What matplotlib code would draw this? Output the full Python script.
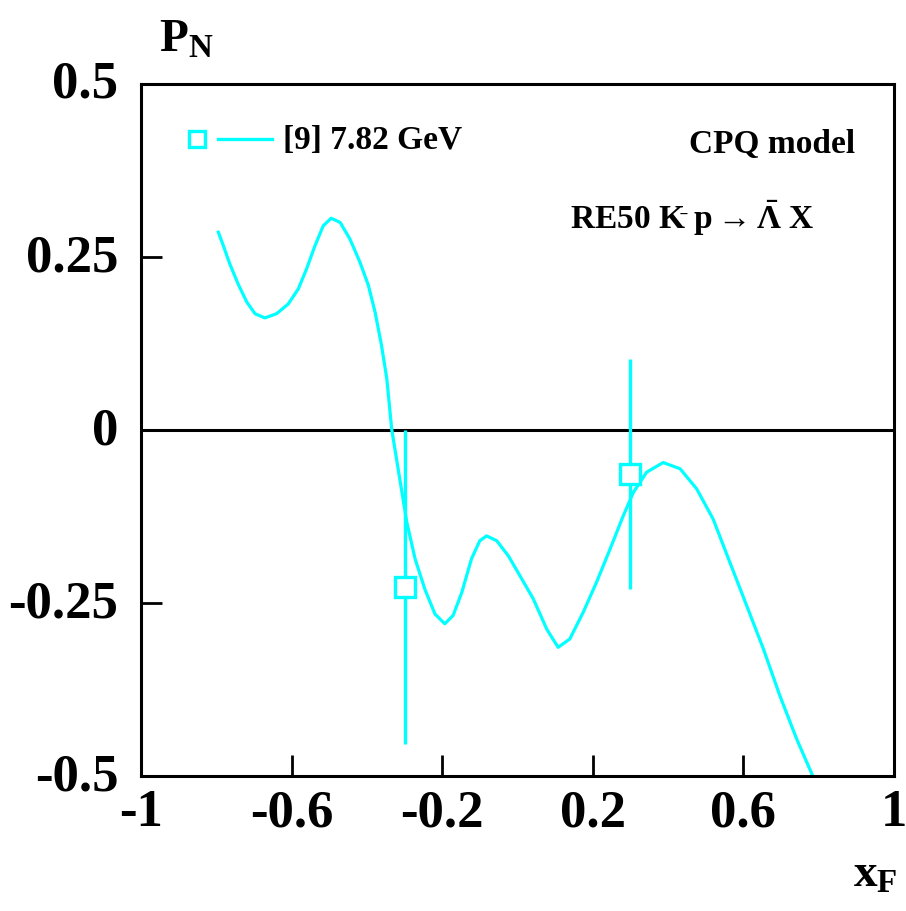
import matplotlib
matplotlib.use('Agg')
import matplotlib.pyplot as plt

plt.rcParams['font.family'] = ['Liberation Serif', 'DejaVu Serif']
plt.rcParams['font.weight'] = 'bold'
plt.rcParams['mathtext.fontset'] = 'custom'
plt.rcParams['mathtext.rm'] = 'Liberation Serif:bold'
plt.rcParams['mathtext.it'] = 'Liberation Serif:bold'
plt.rcParams['mathtext.bf'] = 'Liberation Serif:bold'

# CPQ model curve
curve_x = [-0.796, -0.781, -0.764, -0.742, -0.719, -0.697, -0.671, -0.640, -0.609,
           -0.582, -0.560, -0.538, -0.516, -0.495, -0.471, -0.445, -0.418, -0.396,
           -0.378, -0.361, -0.347, -0.334, -0.317, -0.294, -0.272, -0.246, -0.219,
           -0.193, -0.171, -0.148, -0.122, -0.100, -0.082, -0.055, -0.024, 0.007,
           0.042, 0.078, 0.108, 0.139, 0.175, 0.210, 0.246, 0.281, 0.308, 0.343,
           0.387, 0.432, 0.476, 0.520, 0.564, 0.609, 0.653, 0.697, 0.742, 0.786]
curve_y = [0.288, 0.266, 0.240, 0.211, 0.185, 0.168, 0.162, 0.168, 0.182,
           0.204, 0.233, 0.266, 0.295, 0.306, 0.300, 0.276, 0.242, 0.209,
           0.170, 0.122, 0.074, 0.001, -0.056, -0.133, -0.186, -0.230, -0.266,
           -0.280, -0.268, -0.235, -0.186, -0.160, -0.153, -0.160, -0.182, -0.211,
           -0.244, -0.288, -0.314, -0.302, -0.263, -0.220, -0.172, -0.124, -0.090, -0.061,
           -0.047, -0.056, -0.085, -0.129, -0.191, -0.254, -0.316, -0.384, -0.447, -0.502]

# data [9] 7.82 GeV
data_x = [-0.3, 0.3]
data_y = [-0.227, -0.064]
data_err = [0.227, 0.166]

x_ticks = [-1, -0.6, -0.2, 0.2, 0.6, 1]
x_labels = ['-1', '-0.6', '-0.2', '0.2', '0.6', '1']
y_ticks = [0.5, 0.25, 0, -0.25, -0.5]
y_labels = ['0.5', '0.25', '0', '-0.25', '-0.5']

cyan = '#00ffff'

fig = plt.figure(figsize=(9.06, 9.12), dpi=100)
ax = fig.add_axes([0.1556, 0.148, 0.8311, 0.7588])

ax.axhline(0, color='black', lw=2.2, zorder=1)
ax.plot(curve_x, curve_y, color=cyan, lw=2.3, zorder=2,
        solid_joinstyle='round', solid_capstyle='butt')
ax.errorbar(data_x, data_y, yerr=data_err, fmt='s', ms=14, mfc='white', mec=cyan,
            mew=2.4, ecolor=cyan, elinewidth=2.4, capsize=0, zorder=3)

ax.set_xlim(-1, 1)
ax.set_ylim(-0.5, 0.5)
ax.set_xticks([-0.6, -0.2, 0.2, 0.6])
ax.set_xticklabels([])
ax.set_yticks([-0.25, 0, 0.25])
ax.set_yticklabels([])
ax.tick_params(direction='in', length=15, width=2, top=False, right=False)
for s in ax.spines.values():
    s.set_linewidth(2.2)

# tick labels, placed by hand like the original
tick_fs = 38
for v, lab in zip(x_ticks, x_labels):
    ax.text(v, -0.518, lab, fontsize=tick_fs, fontweight='bold', ha='center', va='top',
            clip_on=False)
for v, lab in zip(y_ticks, y_labels):
    ax.text(-1.06, v, lab, fontsize=tick_fs, fontweight='bold', ha='right', va='center',
            clip_on=False)

fig.text(0.176, 0.955, r'P$_{\mathrm{N}}$', fontsize=34, fontweight='bold', ha='left', va='center')
fig.text(0.942, 0.040, r'x$_{\mathrm{F}}$', fontsize=34, fontweight='bold', ha='left', va='center')

# legend
ax.plot([-0.851], [0.4205], 's', ms=12, mfc='white', mec=cyan, mew=2.4)
ax.plot([-0.795, -0.652], [0.4205, 0.4205], color=cyan, lw=2.4)
ax.text(-0.623, 0.4205, '[9] 7.82 GeV', fontsize=24, fontweight='bold', ha='left', va='center')
ax.text(0.896, 0.4135, 'CPQ model', fontsize=24, fontweight='bold', ha='right', va='center')
ax.text(0.788, 0.308, r'RE50 K$^{\bar{}}$ p$\rightarrow$$\bar{\Lambda}$ X', fontsize=24,
        fontweight='bold', ha='right', va='center')

fig.savefig('out.png', dpi=100)
